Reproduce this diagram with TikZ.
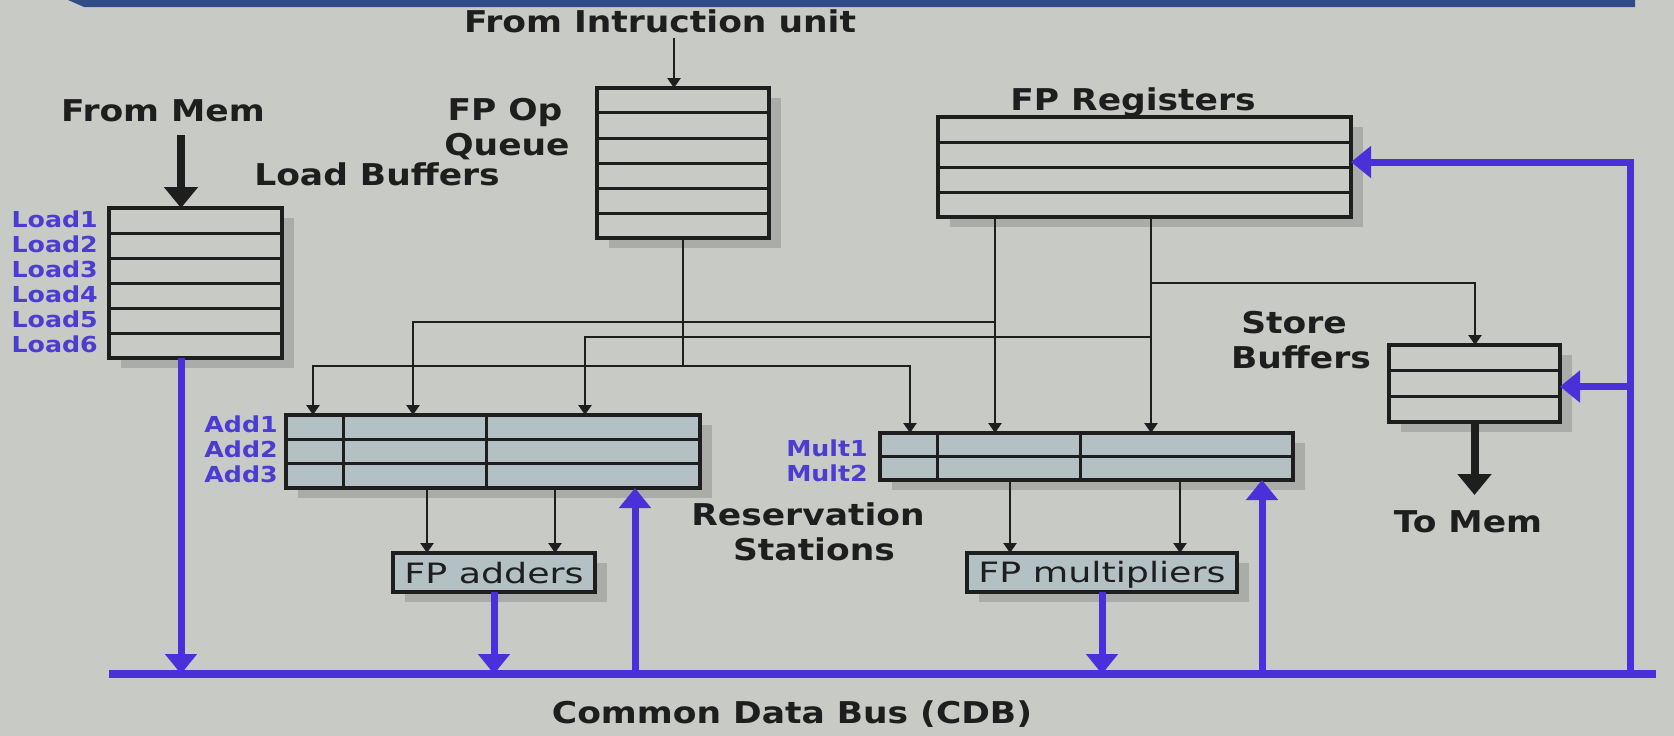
\documentclass[tikz,border=0pt]{standalone}
\usepackage{fontspec}
\setmainfont{DejaVu Sans}[FakeStretch=1.15]
\newfontfamily\boxfont{DejaVu Sans}[FakeStretch=1.3]
\usetikzlibrary{arrows.meta,calc,shadows}
\definecolor{bg}{HTML}{C8CAC6}
\definecolor{banner}{HTML}{2F4B88}
\definecolor{rsfill}{HTML}{B3C1C4}
\definecolor{shade}{HTML}{AAACA9}
\definecolor{cdbblue}{HTML}{4A30D8}
\definecolor{lblblue}{HTML}{4C3DD2}
\definecolor{ink}{HTML}{1E1E1E}
\begin{document}
\begin{tikzpicture}[x=1pt,y=-1pt,
  boxbase/.style={draw=ink,line width=3.2pt,anchor=north west,inner sep=0pt,outer sep=0pt,
    drop shadow={shadow xshift=12pt,shadow yshift=-10pt,fill=shade,opacity=1}},
  buf/.style={boxbase,fill=bg},
  rsbox/.style={boxbase,fill=rsfill},
  fubox/.style={boxbase,fill=rsfill,anchor=center},
  futext/.style={anchor=base,inner sep=0pt,text=ink,font=\boxfont\fontsize{28}{30}\selectfont},
  rowline/.style={draw=ink,line width=3pt},
  txt/.style={anchor=base,text=ink,inner sep=0pt,font=\bfseries\fontsize{30}{35}\selectfont},
  lbl/.style={anchor=base east,text=lblblue,inner sep=0pt,font=\bfseries\fontsize{22}{25}\selectfont},
  wire/.style={draw=ink,line width=2.8pt,line cap=butt},
  thintip/.style={-{Triangle[length=10pt,width=13pt]}},
  fatarrow/.style={draw=ink,line width=8pt,-{Triangle[length=21pt,width=33pt]}},
  cdbline/.style={draw=cdbblue,line width=7pt,line join=miter},
  cdbtip/.style={cdbline,-{Triangle[length=20pt,width=31pt]}}
]
\useasboundingbox (0,0) rectangle (1674,736);
\fill[bg] (0,0) rectangle (1674,736);
\fill[banner] (68,0) -- (1635,0) -- (1635,7) -- (84,7) -- cycle;

% ---------- storage boxes ----------
\node[buf,minimum width=173pt,minimum height=150pt] (load) at (109,208) {};
\foreach \i in {1,...,5}
  \draw[rowline] ($(load.north west)!\i/6!(load.south west)$) -- ($(load.north east)!\i/6!(load.south east)$);

\node[buf,minimum width=172pt,minimum height=150pt] (queue) at (597,88) {};
\foreach \i in {1,...,5}
  \draw[rowline] ($(queue.north west)!\i/6!(queue.south west)$) -- ($(queue.north east)!\i/6!(queue.south east)$);

\node[buf,minimum width=413pt,minimum height=100pt] (regs) at (938,117) {};
\foreach \i in {1,...,3}
  \draw[rowline] ($(regs.north west)!\i/4!(regs.south west)$) -- ($(regs.north east)!\i/4!(regs.south east)$);

\node[buf,minimum width=171pt,minimum height=77pt] (store) at (1389,345) {};
\foreach \i in {1,2}
  \draw[rowline] ($(store.north west)!\i/3!(store.south west)$) -- ($(store.north east)!\i/3!(store.south east)$);

% ---------- reservation stations ----------
\node[rsbox,minimum width=414pt,minimum height=73pt] (add) at (286,415) {};
\foreach \i in {1,2}
  \draw[rowline] ($(add.north west)!\i/3!(add.south west)$) -- ($(add.north east)!\i/3!(add.south east)$);
\foreach \f in {0.1377,0.4831}
  \draw[rowline] ($(add.north west)!\f!(add.north east)$) -- ($(add.south west)!\f!(add.south east)$);

\node[rsbox,minimum width=413pt,minimum height=47pt] (mult) at (880,433) {};
\draw[rowline] (mult.west) -- (mult.east);
\foreach \f in {0.1404,0.4843}
  \draw[rowline] ($(mult.north west)!\f!(mult.north east)$) -- ($(mult.south west)!\f!(mult.south east)$);

% ---------- functional units ----------
\node[fubox,minimum width=202pt,minimum height=39pt] (fpadd) at (494,572.5) {};
\node[futext] (fpaddt) at (494,583) {FP adders};
\node[fubox,minimum width=270pt,minimum height=39pt] (fpmul) at (1102,572.5) {};
\node[futext] (fpmult) at (1102,582) {FP multipliers};

% ---------- labels ----------
\node[txt] (instr) at (660,32) {From Intruction unit};
\node[txt] (frommem) at (163,121) {From Mem};
\node[txt] (lbuf) at (377,185) {Load Buffers};
\node[txt] (fpop) at (505,120) {FP Op};
\node[txt] (fpqueue) at (507,155) {Queue};
\node[txt] (fpregs) at (1133,110) {FP Registers};
\node[txt] (storet) at (1294,333) {Store};
\node[txt] (buffers) at (1301,368) {Buffers};
\node[txt] (tomem) at (1468,532) {To Mem};
\node[txt] (reserv) at (808,525) {Reservation};
\node[txt] (stations) at (814,560) {Stations};
\node[txt] (cdbt) at (792,723) {Common Data Bus (CDB)};

\foreach \i in {1,...,6}
  \node[lbl] (ld\i) at (98,{227+25*(\i-1)}) {Load\i};
\node[lbl] (ad1) at (278,432) {Add1};
\node[lbl] (ad2) at (278,457) {Add2};
\node[lbl] (ad3) at (278,482) {Add3};
\node[lbl] (ml1) at (868,456) {Mult1};
\node[lbl] (ml2) at (868,481) {Mult2};

% ---------- black connectors ----------
\coordinate (insrc) at ($(queue.north)+(-9,-50)$);
\draw[wire,thintip] (insrc) -- (insrc |- queue.north);

\coordinate (memsrc) at ($(load.north west)+(72,-73)$);
\draw[fatarrow] (memsrc) -- (memsrc |- load.north);

\draw[fatarrow] (store.south) -- ($(store.south)+(0,73)$);

\coordinate (jq) at (queue.south |- 0,366);
\draw[wire] (queue.south) -- (jq);
\draw[wire,thintip] (jq) -| ($(add.north west)+(27,0)$);
\draw[wire,thintip] (jq) -| ($(mult.north west)+(30,0)$);

\coordinate (rl) at ($(regs.south west)+(57,0)$);
\coordinate (rr) at ($(regs.south west)+(213,0)$);
\draw[wire,thintip] (rl) -- (rl |- mult.north);
\draw[wire,thintip] (rr) -- (rr |- mult.north);
\draw[wire,thintip] (rl |- 0,322) -| ($(add.north west)+(127,0)$);
\draw[wire,thintip] (rr |- 0,337) -| ($(add.north west)+(299,0)$);
\draw[wire,thintip] (rr |- 0,283) -| ($(store.north west)+(86,0)$);

\coordinate (as1) at ($(add.south west)+(141,0)$);
\coordinate (as2) at ($(add.south west)+(269,0)$);
\draw[wire,thintip] (as1) -- (as1 |- fpadd.north);
\draw[wire,thintip] (as2) -- (as2 |- fpadd.north);
\coordinate (ms1) at ($(mult.south west)+(130,0)$);
\coordinate (ms2) at ($(mult.south west)+(300,0)$);
\draw[wire,thintip] (ms1) -- (ms1 |- fpmul.north);
\draw[wire,thintip] (ms2) -- (ms2 |- fpmul.north);

% ---------- common data bus ----------
\coordinate (busL) at (109,674);
\coordinate (busR) at (1656,674);
\draw[cdbline,line width=8pt] (busL) -- (busR);

\coordinate (lsrc) at ($(load.south west)+(72,0)$);
\draw[cdbtip] (lsrc) -- (lsrc |- busL);
\draw[cdbtip] (fpadd.south) -- (fpadd.south |- busL);
\coordinate (aup) at ($(add.south west)+(349,0)$);
\draw[cdbtip] (aup |- busL) -- (aup);
\draw[cdbtip] (fpmul.south) -- (fpmul.south |- busL);
\coordinate (mup) at ($(mult.south west)+(382,0)$);
\draw[cdbtip] (mup |- busL) -- (mup);

\coordinate (rc) at (1630,674);
\coordinate (regin) at ($(regs.east)+(0,-5)$);
\draw[cdbtip] (rc) |- (regin);
\coordinate (stin) at ($(store.east)+(0,3)$);
\draw[cdbtip] (rc |- stin) -- (stin);
\end{tikzpicture}
\end{document}
